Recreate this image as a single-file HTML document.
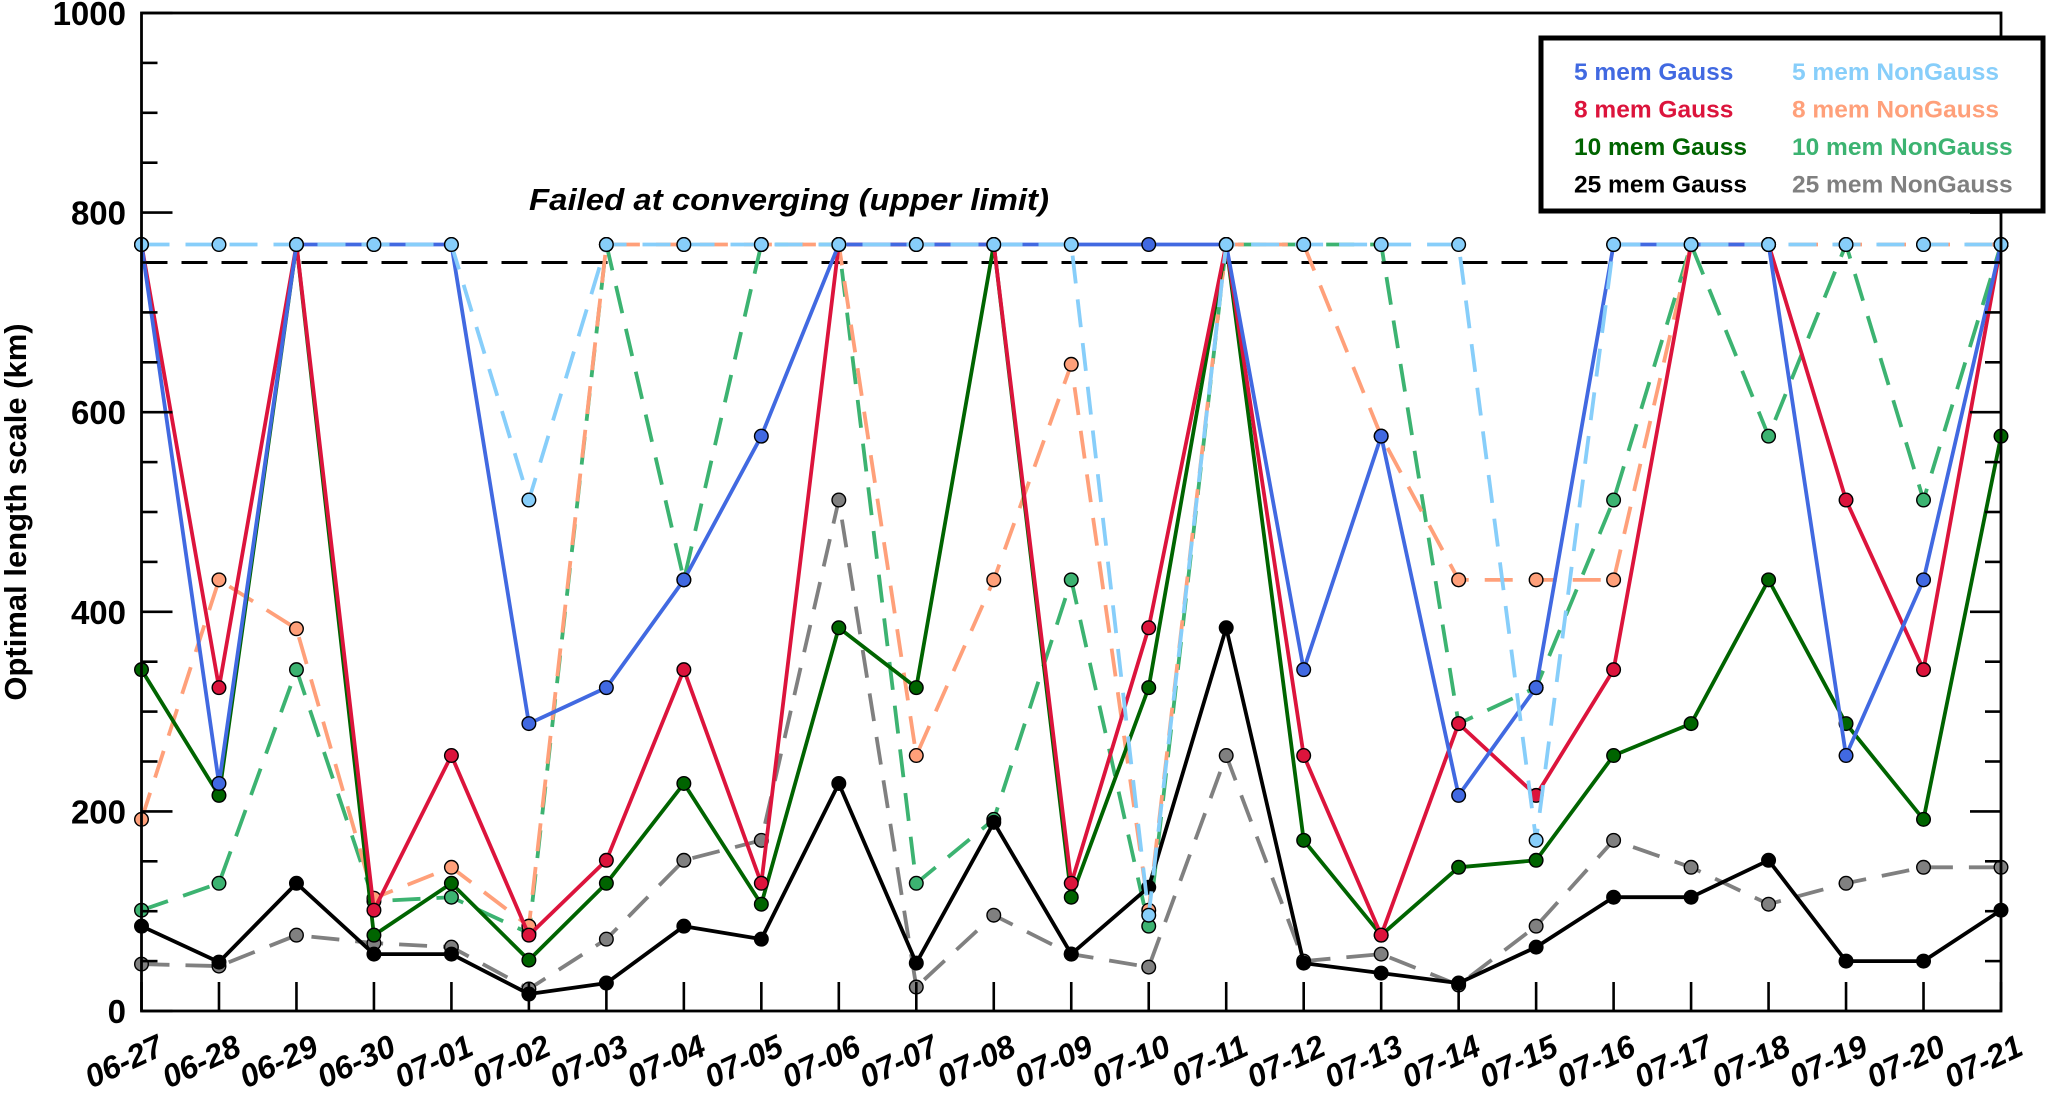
<!DOCTYPE html>
<html><head><meta charset="utf-8"><style>
html,body{margin:0;padding:0;background:#fff;}
svg{display:block;font-family:"Liberation Sans",Arial,sans-serif;}
</style></head><body>
<svg id="chart" width="2048" height="1102" viewBox="0 0 2048 1102" xmlns="http://www.w3.org/2000/svg">
<g id="grid"></g>
<g id="series"></g>
<g id="axes"></g>
<g id="legend"></g>
</svg>
<script>
const dates = ["06-27","06-28","06-29","06-30","07-01","07-02","07-03","07-04","07-05","07-06","07-07","07-08","07-09","07-10","07-11","07-12","07-13","07-14","07-15","07-16","07-17","07-18","07-19","07-20","07-21"];
const yTicks = [0,200,400,600,800,1000];
const capValue = 768;
const limitValue = 750;
const C = 768;
const gauss5 = [C,228,C,C,C,288,324,432,576,C,C,C,C,C,C,342,576,216,324,C,C,C,256,432,C];
const gauss8 = [C,324,C,101,256,76,151,342,128,C,C,C,128,384,C,256,76,288,216,342,C,C,512,342,C];
const gauss10 = [342,216,C,76,128,51,128,228,107,384,324,C,114,324,C,171,76,144,151,256,288,432,288,192,576];
const gauss25 = [85,49,128,57,57,17,28,85,72,228,48,189,57,124,384,48,38,28,64,114,114,151,50,50,101];
const ng5 = [C,C,C,C,C,512,C,C,C,C,C,C,C,96,C,C,C,C,171,C,C,C,C,C,C];
const ng8 = [192,432,383,113,144,85,C,C,C,C,256,432,648,101,C,C,576,432,432,432,C,C,C,C,C];
const ng10 = [101,128,342,110,114,78,C,432,C,C,128,192,432,85,C,C,C,288,324,512,C,576,C,512,C];
const ng25 = [47,45,76,68,64,22,72,151,171,512,24,96,57,44,256,50,57,26,85,171,144,107,128,144,144];
const seriesNames = ["5 mem Gauss","8 mem Gauss","10 mem Gauss","25 mem Gauss","5 mem NonGauss","8 mem NonGauss","10 mem NonGauss","25 mem NonGauss"];

const L=141.5,R=2001,T=13,B=1011;
const xs = i => L + (R-L)*i/(dates.length-1);
const ys = v => B - (B-T)*v/1000;
const NS="http://www.w3.org/2000/svg";
function mk(tag,attrs,parent){const e=document.createElementNS(NS,tag);for(const k in attrs)e.setAttribute(k,attrs[k]);parent.appendChild(e);return e;}
const gS=document.getElementById('series'),gA=document.getElementById('axes'),gL=document.getElementById('legend'),gG=document.getElementById('grid');

let lim=mk('line',{x1:L,x2:R,y1:ys(limitValue),y2:ys(limitValue),stroke:'#000','stroke-width':3,'stroke-dasharray':'26 14'},gG);


let ann=mk('text',{x:529,y:210,'font-size':31,'font-weight':'bold','font-style':'italic',fill:'#000',textLength:520,lengthAdjust:'spacingAndGlyphs'},gG);
ann.textContent='Failed at converging (upper limit)';



const defs=[
 {d:ng25,c:'#808080',dash:'28 16',n:'nongauss-25'},
 {d:ng10,c:'#3cb371',dash:'28 16',n:'nongauss-10'},
 {d:ng8,c:'#ffa07a',dash:'28 16',n:'nongauss-8'},
 {d:gauss25,c:'#000000',dash:null,n:'gauss-25'},
 {d:gauss10,c:'#006400',dash:null,n:'gauss-10'},
 {d:gauss8,c:'#dc143c',dash:null,n:'gauss-8'},
 {d:gauss5,c:'#4169e1',dash:null,n:'gauss-5'},
 {d:ng5,c:'#87cefa',dash:'28 16',n:'nongauss-5'}
];
defs.forEach(s=>{
  const g=mk('g',{},gS);
  
  
  const pts=s.d.map((v,i)=>xs(i).toFixed(1)+','+ys(v).toFixed(1)).join(' ');
  const a={points:pts,fill:'none',stroke:s.c,'stroke-width':3.8,'stroke-linejoin':'round'};
  if(s.dash)a['stroke-dasharray']=s.dash;
  const pl=mk('polyline',a,g);
  
  
  s.d.forEach((v,i)=>{
    const c=mk('circle',{cx:xs(i),cy:ys(v),r:6.8,fill:s.c,stroke:'#000','stroke-width':1.4},g);
    
    
  });
});

let fr=mk('rect',{x:L,y:T,width:R-L,height:B-T,fill:'none',stroke:'#000','stroke-width':2.8},gA);


for(let v=0;v<=1000;v+=50){
  const major=v%200===0, len=major?31:16, y=ys(v);
  let t1=mk('line',{x1:L,x2:L+len,y1:y,y2:y,stroke:'#000','stroke-width':2.6},gA);
  
  
  let t2=mk('line',{x1:R-len,x2:R,y1:y,y2:y,stroke:'#000','stroke-width':2.6},gA);
  
  
}
yTicks.forEach(v=>{
  const t=mk('text',{x:126,y:ys(v)+12,'text-anchor':'end','font-size':33,'font-weight':'bold'},gA);
  t.textContent=v;
  
  
});
dates.forEach((d,i)=>{
  const x=xs(i);
  let tk=mk('line',{x1:x,x2:x,y1:B,y2:B-29,stroke:'#000','stroke-width':2.6},gA);
  
  
  const t=mk('text',{x:0,y:0,'text-anchor':'end','font-size':32,'font-weight':'bold','font-style':'italic',transform:`translate(${x+24},${1054}) rotate(-25)`},gA);
  t.textContent=d;
  
  
});
let yt=mk('text',{x:0,y:0,'text-anchor':'middle','font-size':31,'font-weight':'bold',transform:'translate(26,512) rotate(-90)'},gA);
yt.textContent='Optimal length scale (km)';



let lb=mk('rect',{x:1541,y:38,width:502,height:173,fill:'#fff',stroke:'#000','stroke-width':5},gL);


const legColors=['#4169e1','#dc143c','#006400','#000000','#87cefa','#ffa07a','#3cb371','#808080'];
seriesNames.forEach((n,i)=>{
  const col=Math.floor(i/4), row=i%4;
  const t=mk('text',{x:col?1792:1574,y:80+row*37.5,'font-size':24.5,'font-weight':'bold',fill:legColors[i]},gL);
  t.textContent=n;
  
  
});
</script>
</body></html>
